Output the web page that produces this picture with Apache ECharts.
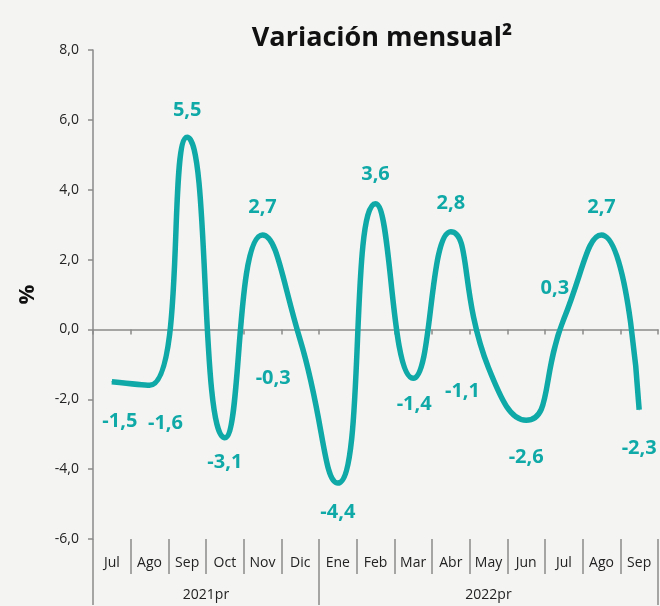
<!DOCTYPE html>
<html>
<head>
<meta charset="utf-8">
<script src="https://cdn.jsdelivr.net/npm/echarts@6/dist/echarts.min.js"></script>
<style>
  html, body { margin: 0; padding: 0; background: #f4f4f3; }
  #chart { width: 660px; height: 606px; }
</style>
</head>
<body>
<div id="chart"></div>
<script>
  // datos
  const months = ['Jul', 'Ago', 'Sep', 'Oct', 'Nov', 'Dic', 'Ene', 'Feb', 'Mar', 'Abr', 'May', 'Jun', 'Jul', 'Ago', 'Sep']
  const values = [-1.5, -1.6, 5.5, -3.1, 2.7, -0.3, -4.4, 3.6, -1.4, 2.8, -1.1, -2.6, 0.3, 2.7, -2.3]
  const years = ['2021pr', '2022pr']
  const yearBounds = [0, 6, 15]
  const yTicks = [-6, -4, -2, 0, 2, 4, 6, 8]

  // posicion de cada etiqueta respecto al punto
  const labelOffsets = [
    [8, 39], [16, 38], [0, -27], [0, 25], [0, -28], [-27, 38], [0, 29], [0, -29],
    [1, 26], [0, -28], [-26, 23], [0, 37], [-9, -31], [0, -28], [0, 39]
  ]

  const teal = '#0fa9a7'
  const axisGray = '#8a8a8a'
  const fmt = v => v.toFixed(1).replace('.', ',')

  const chart = echarts.init(document.getElementById('chart'))

  const option = {
    backgroundColor: '#f4f4f3',
    textStyle: { fontFamily: 'Open Sans' },
    title: {
      text: 'Variación mensual²',
      left: 377,
      top: 20,
      textAlign: 'center',
      textStyle: { fontSize: 27, fontWeight: 'bold', color: '#111', fontFamily: 'Open Sans' }
    },
    grid: { left: 93, right: 2, top: 50, bottom: 67 },
    xAxis: [
      {
        type: 'category',
        data: months,
        axisLine: { onZero: true, lineStyle: { color: axisGray, width: 1.5 } },
        axisTick: { show: true, length: 5, lineStyle: { color: axisGray, width: 1.5 } },
        axisLabel: { show: false }
      },
      {
        type: 'category',
        data: months,
        position: 'bottom',
        axisLine: { show: false, onZero: false },
        axisTick: { show: true, length: 35, lineStyle: { color: axisGray, width: 1.5 } },
        axisLabel: { margin: 17, fontSize: 14, color: '#222' }
      },
      {
        type: 'value',
        min: 0,
        max: 15,
        position: 'bottom',
        offset: 35,
        axisLine: { show: false, onZero: false },
        splitLine: { show: false },
        axisTick: { show: true, customValues: yearBounds, length: 31, lineStyle: { color: axisGray, width: 1.5 } },
        axisLabel: {
          customValues: [(yearBounds[0] + yearBounds[1]) / 2, (yearBounds[1] + yearBounds[2]) / 2],
          formatter: v => (v < yearBounds[1] ? years[0] : years[1]),
          margin: 14,
          fontSize: 14,
          color: '#222'
        }
      }
    ],
    yAxis: {
      type: 'value',
      min: yTicks[0],
      max: yTicks[yTicks.length - 1],
      interval: 2,
      name: '%',
      nameLocation: 'middle',
      nameGap: 54,
      nameTextStyle: { fontSize: 22, fontWeight: 'bold', color: '#111' },
      axisLine: { show: true, lineStyle: { color: axisGray, width: 1.5 } },
      axisTick: { show: true, length: 5, lineStyle: { color: axisGray, width: 1.5 } },
      splitLine: { show: false },
      axisLabel: { formatter: fmt, margin: 14, fontSize: 14, color: '#222' }
    },
    series: [
      {
        type: 'line',
        xAxisIndex: 0,
        data: values.map((v, i) => ({
          value: v,
          label: { offset: labelOffsets[i] }
        })),
        smooth: 0.55,
        symbol: 'circle',
        symbolSize: 1,
        itemStyle: { color: teal },
        lineStyle: { color: teal, width: 5.5 },
        label: {
          show: true,
          position: 'inside',
          formatter: p => fmt(p.value),
          fontSize: 20,
          fontWeight: 'bold',
          color: teal
        }
      }
    ]
  }

  chart.setOption(option)
</script>
</body>
</html>
